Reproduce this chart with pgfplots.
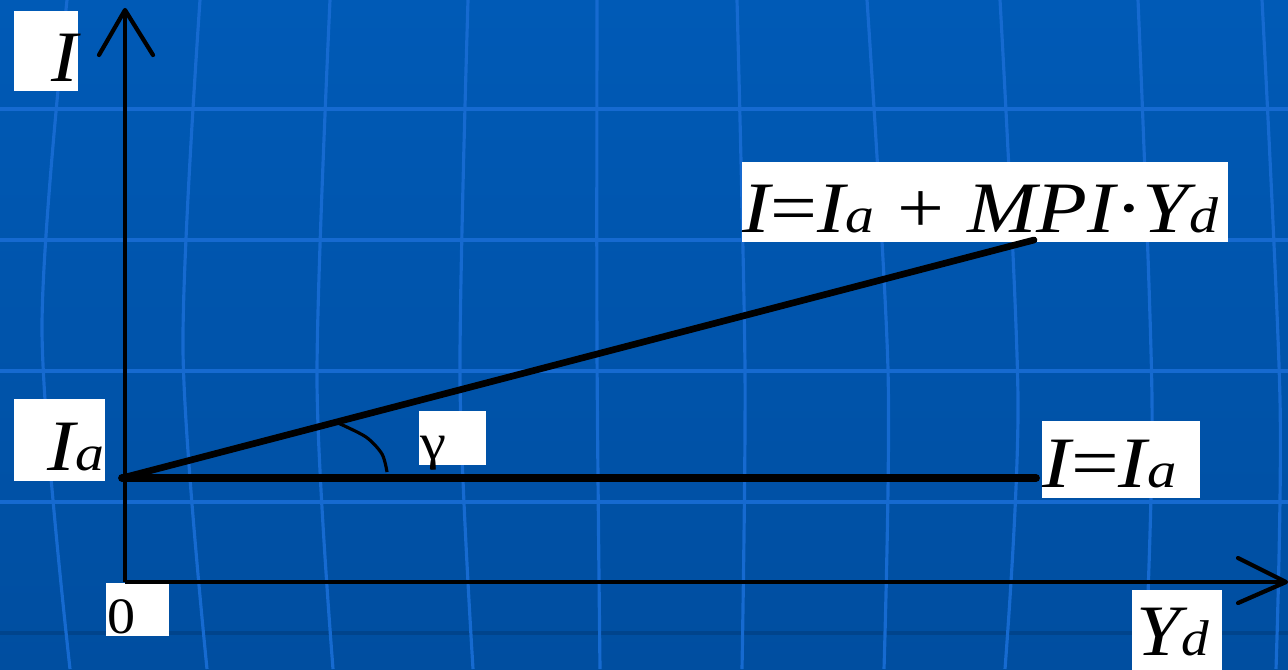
\documentclass[border=0pt]{standalone}
\usepackage{pgfplots}
\pgfplotsset{compat=1.18}
\usepackage{fontspec}
\setmainfont{Liberation Serif}

\definecolor{bgtop}{RGB}{0,90,182}
\definecolor{bgbot}{RGB}{0,78,160}
\definecolor{gridc}{RGB}{22,106,208}
\definecolor{gridd}{RGB}{0,68,140}

\newcommand\bigf{\fontsize{20.6}{22}\selectfont}
\newcommand\sub[1]{{\fontsize{14.3}{15}\selectfont\itshape #1}}

\begin{document}
\begin{tikzpicture}
\begin{axis}[
    width=12.88cm, height=6.69cm, scale only axis,
    xmin=0, xmax=1288, ymin=0, ymax=669, y dir=reverse,
    axis lines=none, ticks=none,
    axis background/.style={shade, top color=bgtop, bottom color=bgbot},
]
% faint background grid (slide template)
\addplot[gridc, line width=0.9pt] coordinates {(0,109) (1288,109)};
\addplot[gridc, line width=0.9pt] coordinates {(0,240) (1288,240)};
\addplot[gridc, line width=0.9pt] coordinates {(0,371) (1288,371)};
\addplot[gridc, line width=0.9pt] coordinates {(0,502) (1288,502)};
\addplot[gridd, line width=0.9pt] coordinates {(0,633) (1288,633)};
\addplot[gridc, line width=0.9pt, smooth] coordinates {(67,0) (42,330) (70,669)};
\addplot[gridc, line width=0.9pt, smooth] coordinates {(200,0) (183,350) (207,669)};
\addplot[gridc, line width=0.9pt, smooth] coordinates {(330,0) (317,380) (333,669)};
\addplot[gridc, line width=0.9pt, smooth] coordinates {(468,0) (460,380) (473,669)};
\addplot[gridc, line width=0.9pt, smooth] coordinates {(597,0) (597,350) (600,669)};
\addplot[gridc, line width=0.9pt, smooth] coordinates {(737,0) (745,370) (742,669)};
\addplot[gridc, line width=0.9pt, smooth] coordinates {(867,0) (888,370) (884,669)};
\addplot[gridc, line width=0.9pt, smooth] coordinates {(1000,0) (1018,400) (1005,669)};
\addplot[gridc, line width=0.9pt, smooth] coordinates {(1138,0) (1152,400) (1145,669)};
\addplot[gridc, line width=0.9pt, smooth] coordinates {(1262,0) (1280,400) (1276,669)};

% white label boxes
\node[fill=white, inner sep=0, anchor=north west, minimum width=0.64cm, minimum height=0.80cm] at (axis cs:13,10) {};
\node[fill=white, inner sep=0, anchor=north west, minimum width=0.91cm, minimum height=0.82cm] at (axis cs:13,398) {};
\node[fill=white, inner sep=0, anchor=north west, minimum width=0.63cm, minimum height=0.53cm] at (axis cs:105,582) {};
\node[fill=white, inner sep=0, anchor=north west, minimum width=0.90cm, minimum height=0.82cm] at (axis cs:1131,589) {};
\node[fill=white, inner sep=0, anchor=north west, minimum width=1.58cm, minimum height=0.77cm] at (axis cs:1041,420) {};
\node[fill=white, inner sep=0, anchor=north west, minimum width=4.86cm, minimum height=0.80cm] at (axis cs:741,161) {};
\node[fill=white, inner sep=0, anchor=north west, minimum width=0.67cm, minimum height=0.54cm] at (axis cs:418,410) {};

% axes with open arrow heads
\addplot[black, line width=1.2pt] coordinates {(125,582) (125,12)};
\addplot[black, line width=1.2pt, line join=round, line cap=round] coordinates {(99,55) (125,10) (153,55)};
\addplot[black, line width=1.2pt] coordinates {(125,582) (1284,582)};
\addplot[black, line width=1.2pt, line join=round, line cap=round] coordinates {(1238,558) (1286,582) (1238,603)};

% I = Ia and I = Ia + MPI*Yd
\addplot[black, line width=2.2pt, line cap=round] coordinates {(122,478) (1036,478)};
\addplot[black, line width=1.9pt, line cap=round] coordinates {(122,478) (1034,240)};
% angle gamma
\addplot[black, line width=0.9pt, smooth] coordinates {(338,423) (366,437) (382,454) (387,472)};

% labels
\node[anchor=base east, inner sep=0, xscale=1.1] at (axis cs:79,81) {\bigf\itshape I};
\node[anchor=base east, inner sep=0, xscale=1.15] at (axis cs:105,470) {\bigf\itshape I\sub{a}};
\node[anchor=base west, inner sep=0, xscale=1.1] at (axis cs:107,633) {\fontsize{14.5}{15}\selectfont 0};
\node[anchor=base west, inner sep=0, xscale=1.1] at (axis cs:1136,655) {\bigf\itshape Y\sub{d}};
\node[anchor=base west, inner sep=0, xscale=1.17] at (axis cs:1042,487) {\bigf\itshape I\upshape=\itshape I\sub{a}};
\node[anchor=base west, inner sep=0, xscale=1.15] at (axis cs:742,232) {\bigf\itshape I\upshape=\itshape I\sub{a}\hspace{0.2cm}\upshape+\hspace{0.2cm}\itshape MPI\upshape·\itshape Y\sub{d}};
\node[anchor=base west, inner sep=0, xscale=1.15] at (axis cs:420,459) {\fontsize{14.5}{15}\selectfont γ};
\end{axis}
\end{tikzpicture}
\end{document}
